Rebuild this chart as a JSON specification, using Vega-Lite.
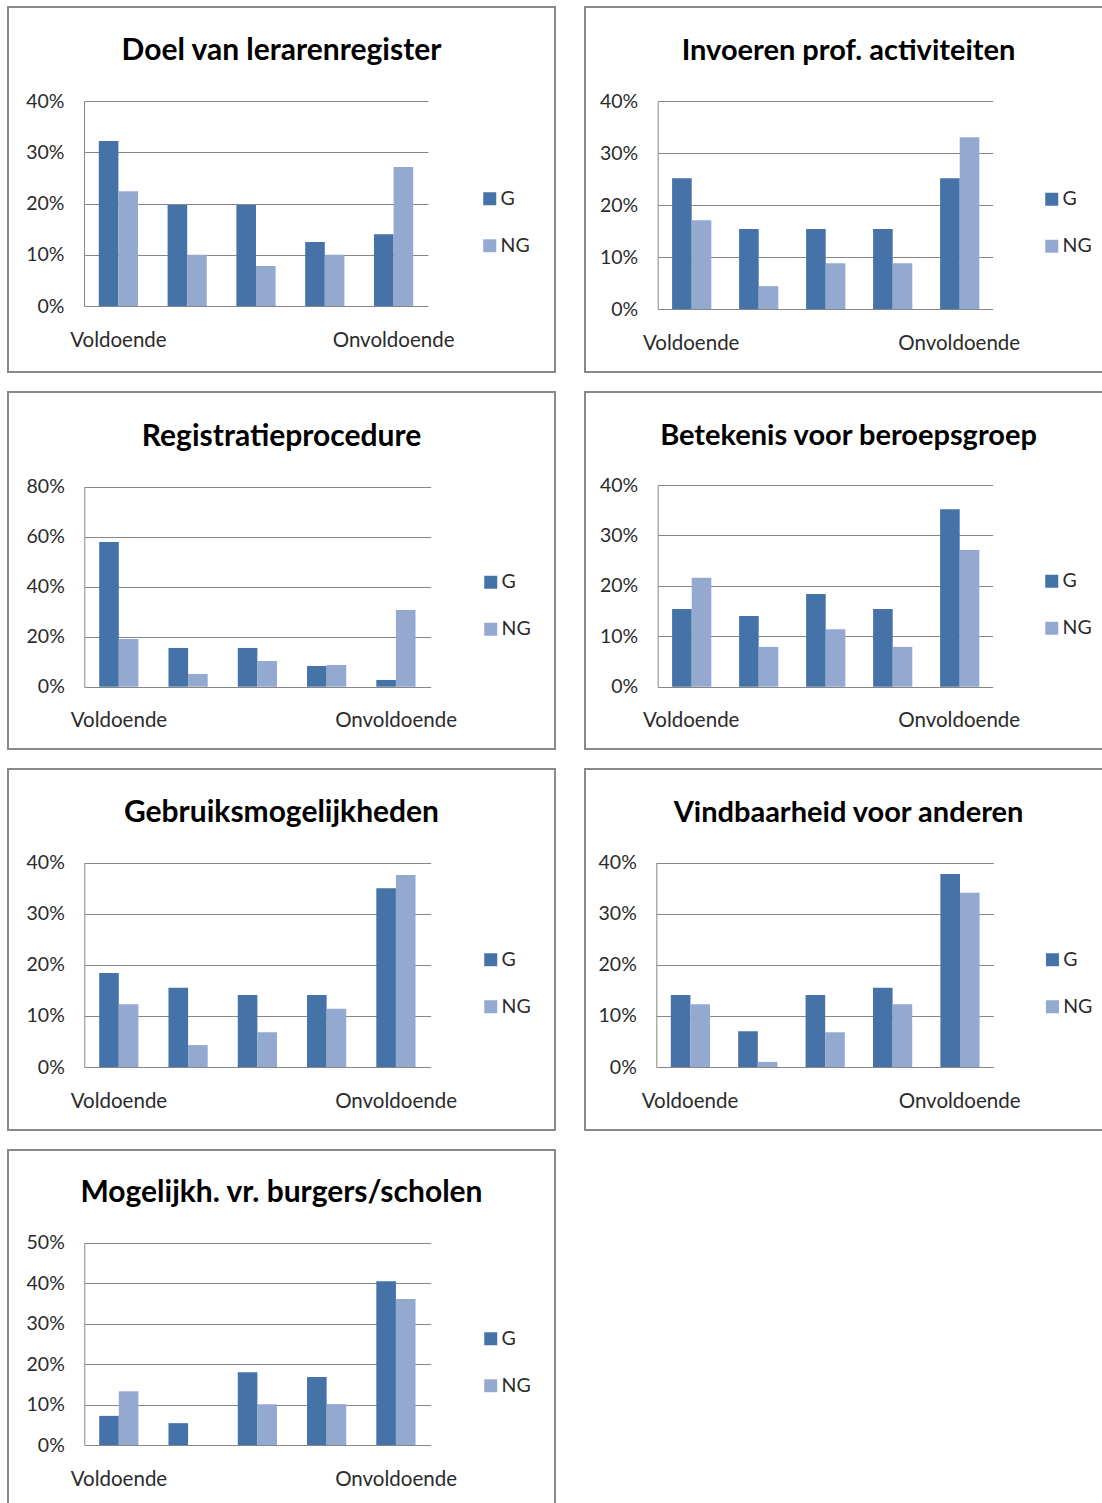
{
  "$schema": "https://vega.github.io/schema/vega-lite/v6.json",
  "background": "white",
  "padding": {"left": 7, "top": 6, "right": 0, "bottom": 0},
  "columns": 2,
  "align": "each",
  "spacing": {"row": 18, "column": 28},
  "resolve": {"scale": {"color": "independent"}, "legend": {"color": "independent"}},
  "datasets": {
    "p1": [
      {"cat": 1, "grp": "G", "value": 0.322}, {"cat": 1, "grp": "NG", "value": 0.224},
      {"cat": 2, "grp": "G", "value": 0.197}, {"cat": 2, "grp": "NG", "value": 0.100},
      {"cat": 3, "grp": "G", "value": 0.197}, {"cat": 3, "grp": "NG", "value": 0.078},
      {"cat": 4, "grp": "G", "value": 0.125}, {"cat": 4, "grp": "NG", "value": 0.100},
      {"cat": 5, "grp": "G", "value": 0.140}, {"cat": 5, "grp": "NG", "value": 0.271}
    ],
    "p2": [
      {"cat": 1, "grp": "G", "value": 0.252}, {"cat": 1, "grp": "NG", "value": 0.171},
      {"cat": 2, "grp": "G", "value": 0.154}, {"cat": 2, "grp": "NG", "value": 0.044},
      {"cat": 3, "grp": "G", "value": 0.154}, {"cat": 3, "grp": "NG", "value": 0.088},
      {"cat": 4, "grp": "G", "value": 0.154}, {"cat": 4, "grp": "NG", "value": 0.088},
      {"cat": 5, "grp": "G", "value": 0.252}, {"cat": 5, "grp": "NG", "value": 0.331}
    ],
    "p3": [
      {"cat": 1, "grp": "G", "value": 0.579}, {"cat": 1, "grp": "NG", "value": 0.191},
      {"cat": 2, "grp": "G", "value": 0.155}, {"cat": 2, "grp": "NG", "value": 0.051},
      {"cat": 3, "grp": "G", "value": 0.155}, {"cat": 3, "grp": "NG", "value": 0.103},
      {"cat": 4, "grp": "G", "value": 0.083}, {"cat": 4, "grp": "NG", "value": 0.087},
      {"cat": 5, "grp": "G", "value": 0.027}, {"cat": 5, "grp": "NG", "value": 0.307}
    ],
    "p4": [
      {"cat": 1, "grp": "G", "value": 0.154}, {"cat": 1, "grp": "NG", "value": 0.216},
      {"cat": 2, "grp": "G", "value": 0.140}, {"cat": 2, "grp": "NG", "value": 0.079},
      {"cat": 3, "grp": "G", "value": 0.184}, {"cat": 3, "grp": "NG", "value": 0.114},
      {"cat": 4, "grp": "G", "value": 0.154}, {"cat": 4, "grp": "NG", "value": 0.079},
      {"cat": 5, "grp": "G", "value": 0.352}, {"cat": 5, "grp": "NG", "value": 0.271}
    ],
    "p5": [
      {"cat": 1, "grp": "G", "value": 0.184}, {"cat": 1, "grp": "NG", "value": 0.123},
      {"cat": 2, "grp": "G", "value": 0.155}, {"cat": 2, "grp": "NG", "value": 0.043},
      {"cat": 3, "grp": "G", "value": 0.141}, {"cat": 3, "grp": "NG", "value": 0.068},
      {"cat": 4, "grp": "G", "value": 0.141}, {"cat": 4, "grp": "NG", "value": 0.114},
      {"cat": 5, "grp": "G", "value": 0.350}, {"cat": 5, "grp": "NG", "value": 0.376}
    ],
    "p6": [
      {"cat": 1, "grp": "G", "value": 0.141}, {"cat": 1, "grp": "NG", "value": 0.123},
      {"cat": 2, "grp": "G", "value": 0.070}, {"cat": 2, "grp": "NG", "value": 0.010},
      {"cat": 3, "grp": "G", "value": 0.141}, {"cat": 3, "grp": "NG", "value": 0.068},
      {"cat": 4, "grp": "G", "value": 0.155}, {"cat": 4, "grp": "NG", "value": 0.123},
      {"cat": 5, "grp": "G", "value": 0.378}, {"cat": 5, "grp": "NG", "value": 0.341}
    ],
    "p7": [
      {"cat": 1, "grp": "G", "value": 0.072}, {"cat": 1, "grp": "NG", "value": 0.133},
      {"cat": 2, "grp": "G", "value": 0.054}, {"cat": 2, "grp": "NG", "value": 0.0},
      {"cat": 3, "grp": "G", "value": 0.180}, {"cat": 3, "grp": "NG", "value": 0.101},
      {"cat": 4, "grp": "G", "value": 0.168}, {"cat": 4, "grp": "NG", "value": 0.101},
      {"cat": 5, "grp": "G", "value": 0.405}, {"cat": 5, "grp": "NG", "value": 0.361}
    ]
  },
  "concat": [
    {
      "width": 547, "height": 365,
      "data": {"name": "p1"},
      "title": {"text": "Doel van lerarenregister", "offset": -59},
      "mark": {"type": "bar"},
      "encoding": {
        "x": {"field": "cat", "type": "ordinal", "title": null,
          "scale": {"range": [76, 420], "paddingInner": 0.43, "paddingOuter": 0.215},
          "axis": {"offset": -66}},
        "xOffset": {"field": "grp", "type": "nominal", "sort": ["G", "NG"]},
        "y": {"field": "value", "type": "quantitative", "title": null,
          "scale": {"domain": [0, 0.4], "range": [299, 94], "nice": false, "zero": true},
          "axis": {"offset": -76, "values": [0, 0.1, 0.2, 0.3, 0.4]}},
        "color": {"field": "grp", "type": "nominal",
          "scale": {"domain": ["G", "NG"], "range": ["#4572A7", "#94A9D0"]},
          "legend": {"legendX": 472, "legendY": 182}}
      }
    },
    {
      "width": 527, "height": 365,
      "data": {"name": "p2"},
      "title": {"text": "Invoeren prof. activiteiten", "offset": -59, "fontSize": 29},
      "mark": {"type": "bar"},
      "encoding": {
        "x": {"field": "cat", "type": "ordinal", "title": null,
          "scale": {"range": [72.7, 407.7], "paddingInner": 0.43, "paddingOuter": 0.215},
          "axis": {"offset": -63}},
        "xOffset": {"field": "grp", "type": "nominal", "sort": ["G", "NG"]},
        "y": {"field": "value", "type": "quantitative", "title": null,
          "scale": {"domain": [0, 0.4], "range": [302, 94.3], "nice": false, "zero": true},
          "axis": {"offset": -72.7, "values": [0, 0.1, 0.2, 0.3, 0.4]}},
        "color": {"field": "grp", "type": "nominal",
          "scale": {"domain": ["G", "NG"], "range": ["#4572A7", "#94A9D0"]},
          "legend": {"legendX": 457, "legendY": 182.5}}
      }
    },
    {
      "width": 547, "height": 357,
      "data": {"name": "p3"},
      "title": {"text": "Registratieprocedure", "offset": -60},
      "mark": {"type": "bar"},
      "encoding": {
        "x": {"field": "cat", "type": "ordinal", "title": null,
          "scale": {"range": [76.3, 422.7], "paddingInner": 0.43, "paddingOuter": 0.215},
          "axis": {"offset": -62.3}},
        "xOffset": {"field": "grp", "type": "nominal", "sort": ["G", "NG"]},
        "y": {"field": "value", "type": "quantitative", "title": null,
          "scale": {"domain": [0, 0.8], "range": [294.7, 94.7], "nice": false, "zero": true},
          "axis": {"offset": -76.3, "values": [0, 0.2, 0.4, 0.6, 0.8]}},
        "color": {"field": "grp", "type": "nominal",
          "scale": {"domain": ["G", "NG"], "range": ["#4572A7", "#94A9D0"]},
          "legend": {"legendX": 473, "legendY": 180.5}}
      }
    },
    {
      "width": 527, "height": 357,
      "data": {"name": "p4"},
      "title": {"text": "Betekenis voor beroepsgroep", "offset": -59, "fontSize": 29},
      "mark": {"type": "bar"},
      "encoding": {
        "x": {"field": "cat", "type": "ordinal", "title": null,
          "scale": {"range": [72.7, 407.7], "paddingInner": 0.43, "paddingOuter": 0.215},
          "axis": {"offset": -62.3}},
        "xOffset": {"field": "grp", "type": "nominal", "sort": ["G", "NG"]},
        "y": {"field": "value", "type": "quantitative", "title": null,
          "scale": {"domain": [0, 0.4], "range": [294.7, 93], "nice": false, "zero": true},
          "axis": {"offset": -72.7, "values": [0, 0.1, 0.2, 0.3, 0.4]}},
        "color": {"field": "grp", "type": "nominal",
          "scale": {"domain": ["G", "NG"], "range": ["#4572A7", "#94A9D0"]},
          "legend": {"legendX": 457, "legendY": 179.5}}
      }
    },
    {
      "width": 547, "height": 361,
      "data": {"name": "p5"},
      "title": {"text": "Gebruiksmogelijkheden", "offset": -59},
      "mark": {"type": "bar"},
      "encoding": {
        "x": {"field": "cat", "type": "ordinal", "title": null,
          "scale": {"range": [76.3, 422.7], "paddingInner": 0.43, "paddingOuter": 0.215},
          "axis": {"offset": -63}},
        "xOffset": {"field": "grp", "type": "nominal", "sort": ["G", "NG"]},
        "y": {"field": "value", "type": "quantitative", "title": null,
          "scale": {"domain": [0, 0.4], "range": [298, 93.7], "nice": false, "zero": true},
          "axis": {"offset": -76.3, "values": [0, 0.1, 0.2, 0.3, 0.4]}},
        "color": {"field": "grp", "type": "nominal",
          "scale": {"domain": ["G", "NG"], "range": ["#4572A7", "#94A9D0"]},
          "legend": {"legendX": 473, "legendY": 181}}
      }
    },
    {
      "width": 527, "height": 361,
      "data": {"name": "p6"},
      "title": {"text": "Vindbaarheid voor anderen", "offset": -59, "fontSize": 29},
      "mark": {"type": "bar"},
      "encoding": {
        "x": {"field": "cat", "type": "ordinal", "title": null,
          "scale": {"range": [71.3, 408.3], "paddingInner": 0.43, "paddingOuter": 0.215},
          "axis": {"offset": -63}},
        "xOffset": {"field": "grp", "type": "nominal", "sort": ["G", "NG"]},
        "y": {"field": "value", "type": "quantitative", "title": null,
          "scale": {"domain": [0, 0.4], "range": [298, 93.7], "nice": false, "zero": true},
          "axis": {"offset": -71.3, "values": [0, 0.1, 0.2, 0.3, 0.4]}},
        "color": {"field": "grp", "type": "nominal",
          "scale": {"domain": ["G", "NG"], "range": ["#4572A7", "#94A9D0"]},
          "legend": {"legendX": 457.7, "legendY": 181}}
      }
    },
    {
      "width": 547, "height": 360,
      "data": {"name": "p7"},
      "title": {"text": "Mogelijkh. vr. burgers/scholen", "offset": -58},
      "mark": {"type": "bar"},
      "encoding": {
        "x": {"field": "cat", "type": "ordinal", "title": null,
          "scale": {"range": [76.3, 422.7], "paddingInner": 0.43, "paddingOuter": 0.215},
          "axis": {"offset": -65}},
        "xOffset": {"field": "grp", "type": "nominal", "sort": ["G", "NG"]},
        "y": {"field": "value", "type": "quantitative", "title": null,
          "scale": {"domain": [0, 0.5], "range": [295, 92.7], "nice": false, "zero": true},
          "axis": {"offset": -76.3, "values": [0, 0.1, 0.2, 0.3, 0.4, 0.5]}},
        "color": {"field": "grp", "type": "nominal",
          "scale": {"domain": ["G", "NG"], "range": ["#4572A7", "#94A9D0"]},
          "legend": {"legendX": 473, "legendY": 179}}
      }
    }
  ],
  "config": {
    "view": {"stroke": "#898989", "strokeWidth": 2, "fill": "white"},
    "title": {"anchor": "middle", "frame": "group", "baseline": "alphabetic", "font": "Lato", "fontSize": 30, "fontWeight": "bold", "color": "#000000"},
    "axis": {"labelFont": "Lato", "labelColor": "#2b2b2b", "ticks": false, "domainColor": "#868686", "gridColor": "#868686", "gridWidth": 1},
    "axisY": {"format": ".0%", "labelPadding": 20, "labelFontSize": 19.5, "grid": true, "domain": true},
    "axisX": {"labelFontSize": 20.5, "labelPadding": 24, "labelAngle": 0, "domain": false, "grid": false,
      "labelExpr": "datum.value == 1 ? 'Voldoende' : datum.value == 5 ? 'Onvoldoende' : ''"},
    "legend": {"orient": "none", "title": null, "symbolType": "square", "symbolSize": 169, "symbolStrokeWidth": 0,
      "labelFont": "Lato", "labelFontSize": 19.5, "labelColor": "#2b2b2b", "labelOffset": 1, "rowPadding": 26, "padding": 0}
  }
}
